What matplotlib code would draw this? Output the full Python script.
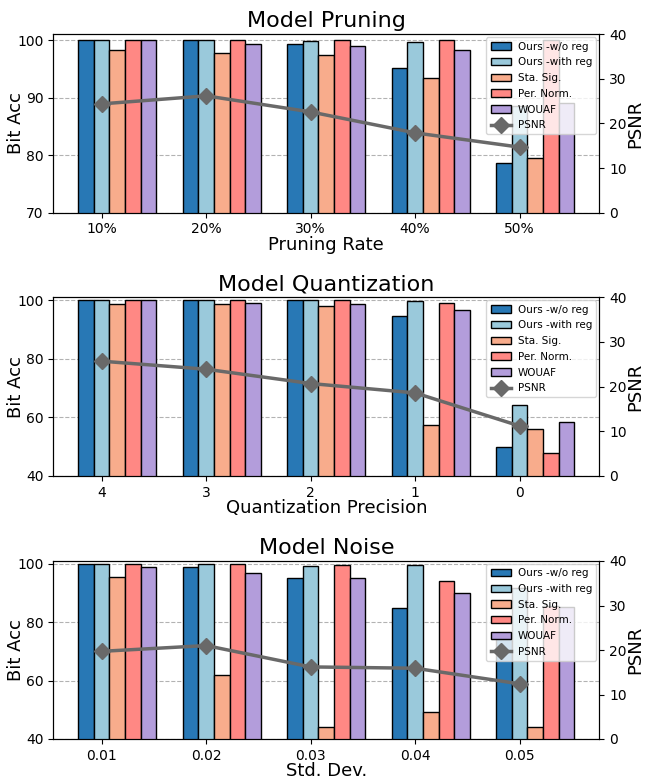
import matplotlib
matplotlib.use("Agg")
import matplotlib.pyplot as plt
import numpy as np

series_names = ["Ours -w/o reg", "Ours -with reg", "Sta. Sig.", "Per. Norm.", "WOUAF"]
colors = ["#2878B5", "#9AC9DB", "#F8AC8C", "#FF8884", "#B39DDB"]

prune_labels = ["10%", "20%", "30%", "40%", "50%"]
prune_vals = [
    [100, 100, 99.3, 95.2, 78.7],
    [100, 100, 99.9, 99.7, 88.5],
    [98.2, 97.8, 97.4, 93.4, 79.5],
    [100, 100, 100, 100, 100],
    [100, 99.3, 98.9, 98.3, 89.0],
]
prune_psnr = [24.4, 26.2, 22.6, 17.9, 14.7]

quant_labels = ["4", "3", "2", "1", "0"]
quant_vals = [
    [100, 100, 100, 94.7, 49.8],
    [100, 100, 100, 99.7, 64.4],
    [98.7, 98.6, 97.9, 57.5, 56.0],
    [100, 100, 100, 98.9, 47.8],
    [100, 99.1, 98.7, 96.5, 58.4],
]
quant_psnr = [25.7, 23.9, 20.7, 18.6, 11.2]

noise_labels = ["0.01", "0.02", "0.03", "0.04", "0.05"]
noise_vals = [
    [100, 98.8, 95.1, 85.0, 74.3],
    [100, 100, 99.3, 99.7, 91.9],
    [95.6, 62.1, 44.2, 49.3, 44.0],
    [100, 100, 99.6, 94.0, 85.6],
    [98.9, 96.8, 95.3, 90.0, 85.1],
]
noise_psnr = [19.7, 21.0, 16.2, 15.9, 12.4]

panels = [
    ("Model Pruning", "Pruning Rate", prune_labels, prune_vals, prune_psnr, (70, 101), [70, 80, 90, 100]),
    ("Model Quantization", "Quantization Precision", quant_labels, quant_vals, quant_psnr, (40, 101), [40, 60, 80, 100]),
    ("Model Noise", "Std. Dev.", noise_labels, noise_vals, noise_psnr, (40, 101), [40, 60, 80, 100]),
]

W, H = 646, 779
fig = plt.figure(figsize=(W / 100, H / 100), dpi=100)
tops = [34.3, 297.3, 561.0]
bottoms = [212.7, 476.0, 739.0]
left_px, right_px = 53.3, 599.3
axw = right_px - left_px

width = 0.15
for (title, xlabel, labels, vals, psnr, ylim, yticks), t, b in zip(panels, tops, bottoms):
    ax = fig.add_axes([left_px / W, 1 - b / H, axw / W, (b - t) / H])
    x = np.arange(len(labels))
    handles = []
    for i, (name, c, v) in enumerate(zip(series_names, colors, vals)):
        h = ax.bar(x + (i - 1) * width, v, width, color=c, edgecolor="black",
                   linewidth=1, label=name, zorder=2)
        handles.append(h)
    ax.set_ylim(*ylim)
    ax.set_yticks(yticks)
    ax.set_xticks(x)
    ax.set_xticklabels(labels, fontsize=10)
    ax.tick_params(axis="y", labelsize=10)
    ax.set_ylabel("Bit Acc", fontsize=13)
    ax.yaxis.set_label_coords((25 - left_px) / axw, 0.5)
    ax.set_xlabel(xlabel, fontsize=13, labelpad=-0.5)
    ax.set_title(title, fontsize=16, pad=5)
    ax.yaxis.grid(True, linestyle="--", color="gray", alpha=0.6, linewidth=0.8, zorder=0)
    ax.set_axisbelow(True)

    ax2 = ax.twinx()
    ln, = ax2.plot(x, psnr, color="dimgray", marker="D", markersize=8,
                   linewidth=2.5, label="PSNR")
    ax2.set_ylim(0, 40)
    ax2.set_yticks([0, 10, 20, 30, 40])
    ax2.tick_params(axis="y", labelsize=10)
    ax2.set_ylabel("PSNR", fontsize=13)
    ax2.yaxis.set_label_coords((626 - left_px) / axw, 0.5)
    handles.append(ln)
    ax2.legend(handles, series_names + ["PSNR"], loc="upper right", fontsize=7.5,
               labelspacing=0.55, handletextpad=0.6, borderaxespad=0.3)

fig.savefig("out.png", dpi=100)
